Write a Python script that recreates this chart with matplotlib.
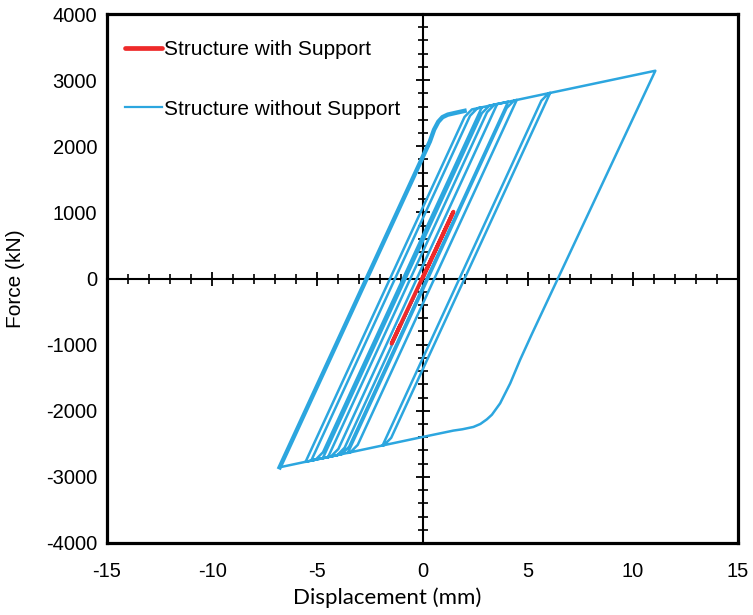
import matplotlib
matplotlib.use("Agg")
import matplotlib.pyplot as plt
from matplotlib.ticker import MultipleLocator

# ---- data ----
# Structure with support (small elastic loop)
with_x = [0.0, 1.47, -1.47, -1.05]
with_y = [0.0, 1010, -985, -700]

# Structure without support: hysteresis path (displacement mm, force kN)
without_x = [0.0, -1.0, 0.35,
             -3.70, -4.05, -4.49,
             3.07, 3.42, 3.55,
             -4.00, -4.35, -5.29,
             2.26, 2.61, 2.82,
             -4.73, -5.08, -5.56,
             2.00, 2.35, 4.07,
             -3.49, -3.84, -4.74,
             2.82, 3.17, 4.48,
             -3.08, -3.43, -3.55,
             4.00, 4.36, 6.07,
             -1.49, -1.84, -1.90,
             5.65, 6.00, 11.07,
             5.20, 4.64, 4.17, 3.69, 3.30, 3.06, 2.75, 2.42, 1.90, 1.47, -0.12,
             -6.79]
without_y = [0, -690, 240,
             -2558, -2671, -2701,
             2515, 2629, 2638,
             -2578, -2691, -2754,
             2461, 2575, 2589,
             -2627, -2740, -2773,
             2444, 2557, 2673,
             -2544, -2657, -2718,
             2499, 2612, 2700,
             -2516, -2630, -2638,
             2578, 2692, 2807,
             -2410, -2523, -2527,
             2689, 2802, 3142,
             -840, -1230, -1586, -1888, -2060, -2130, -2200, -2245, -2280, -2300, -2405,
             -2855]
# final reloading branch (traced twice, appears thick)
final_x = [-6.79, 0.35, 0.55, 0.75, 0.95, 1.20, 1.60, 2.00]
final_y = [-2855, 2072, 2250, 2370, 2440, 2478, 2507, 2535]

x_ticks = [-15, -10, -5, 0, 5, 10, 15]
y_ticks = [-4000, -3000, -2000, -1000, 0, 1000, 2000, 3000, 4000]

red = "#EE2A2A"
blue = "#2CA6DF"

plt.rcParams["font.family"] = ["Liberation Sans", "DejaVu Sans"]
plt.rcParams["axes.unicode_minus"] = False

fig = plt.figure(figsize=(7.53, 6.15), dpi=100)
pos = [107 / 753, 1 - 543 / 615, 631 / 753, 529 / 615]

# frame axes with tick labels
ax = fig.add_axes(pos)
ax.set_xlim(-15, 15)
ax.set_ylim(-4000, 4000)
ax.set_xticks(x_ticks)
ax.set_yticks(y_ticks)
ax.tick_params(axis="y", length=0, labelsize=14.5, pad=7)
ax.tick_params(axis="x", length=0, labelsize=14.5, pad=14)
for s in ax.spines.values():
    s.set_linewidth(2.3)
ax.set_xlabel("Displacement (mm)", fontsize=16, family=["Lato", "DejaVu Sans"])
ax.xaxis.set_label_coords(0.444, -0.083)
ax.set_ylabel("Force (kN)", fontsize=15)
ax.yaxis.set_label_coords(-0.130, 0.5)

# centre axes with cross ticks
ax2 = fig.add_axes(pos)
ax2.set_xlim(-15, 15)
ax2.set_ylim(-4000, 4000)
ax2.patch.set_visible(False)
ax2.spines["top"].set_visible(False)
ax2.spines["right"].set_visible(False)
ax2.spines["left"].set_position(("data", 0))
ax2.spines["bottom"].set_position(("data", 0))
ax2.spines["left"].set_linewidth(1.5)
ax2.spines["bottom"].set_linewidth(1.5)
ax2.xaxis.set_major_locator(MultipleLocator(5))
ax2.xaxis.set_minor_locator(MultipleLocator(1))
ax2.yaxis.set_major_locator(MultipleLocator(1000))
ax2.yaxis.set_minor_locator(MultipleLocator(200))
ax2.tick_params(which="major", direction="inout", length=10, width=1.3,
                labelbottom=False, labelleft=False)
ax2.tick_params(which="minor", direction="inout", length=6.5, width=1.2)

ax2.plot(with_x, with_y, color=red, lw=2.8, label="Structure with Support",
         solid_capstyle="round", zorder=5)
ax2.plot(without_x, without_y, color=blue, lw=1.8, label="Structure without Support",
         solid_joinstyle="round", zorder=4)
ax2.plot(final_x, final_y, color=blue, lw=3.2, solid_joinstyle="round", zorder=4)

leg = ax2.legend(loc="upper left", bbox_to_anchor=(0.0285, 0.951), frameon=False,
                 fontsize=15, handlelength=1.78, handletextpad=0.1,
                 labelspacing=1.95, borderpad=0, borderaxespad=0)
leg.get_lines()[0].set_linewidth(3.4)
leg.get_lines()[1].set_linewidth(1.6)

fig.savefig("out.png", dpi=100)
